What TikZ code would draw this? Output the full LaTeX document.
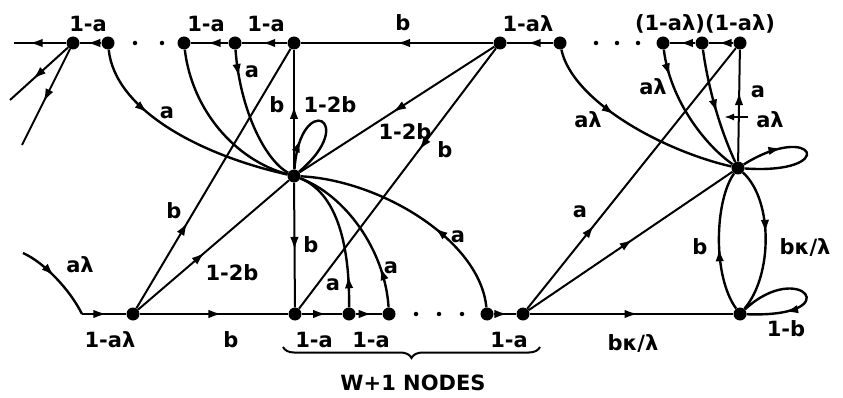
\documentclass[tikz,border=0pt]{standalone}
\usepackage{fontspec}
\setmainfont{DejaVu Sans}
\usetikzlibrary{arrows.meta,decorations.markings,decorations.pathreplacing}
\tikzset{
 dot/.style={circle,fill=black,inner sep=0pt,minimum size=13pt},
 sdot/.style={circle,fill=black,inner sep=0pt,minimum size=4.5pt},
 ln/.style={line width=2pt},
 cv/.style={line width=2.4pt},
 ma/.style={postaction={decorate,decoration={markings,mark=at position #1 with {\arrow{Latex[length=13pt,width=8.5pt]}}}}},
 lab/.style={inner sep=0pt,font=\fontsize{21}{25}\selectfont\bfseries},
}
\begin{document}
\begin{tikzpicture}[x=1pt,y=-1pt]
\useasboundingbox (0,0) rectangle (843,398);
% top row
\node[dot] (T1) at (73,43) {};
\node[dot] (T2) at (108,43) {};
\node[dot] (T3) at (184,43) {};
\node[dot] (T4) at (235,43) {};
\node[dot] (T5) at (294,43) {};
\node[dot] (T6) at (500,43) {};
\node[dot] (T6b) at (560,43) {};
\node[dot] (T7) at (663,43) {};
\node[dot] (T8) at (702,43) {};
\node[dot] (T9) at (740,43) {};
% hubs
\node[dot] (H1) at (294,176) {};
\node[dot] (H2) at (738,168) {};
% bottom row
\node[dot] (B1) at (133,314) {};
\node[dot] (B2) at (295,314) {};
\node[dot] (B3) at (349,314) {};
\node[dot] (B4) at (389,314) {};
\node[dot] (B5) at (487,314) {};
\node[dot] (B6) at (523,314) {};
\node[dot] (B7) at (740,314) {};
% ellipsis dots
\node[sdot] (d1) at (135,43) {};
\node[sdot] (d2) at (162,43) {};
\node[sdot] (d3) at (596,43) {};
\node[sdot] (d4) at (617,43) {};
\node[sdot] (d5) at (638,43) {};
\node[sdot] (d6) at (416,314) {};
\node[sdot] (d7) at (439,314) {};
\node[sdot] (d8) at (462,314) {};
% free ends
\coordinate (L1) at (14,43);
\coordinate (L2) at (10,100);
\coordinate (L3) at (22,145);
\coordinate (S0) at (23,253);
\coordinate (S1) at (82,314);
% top row edges
\draw[ln,ma=0.7] (T1) -- (L1);
\draw[ln,ma=0.6] (T1) -- (L2);
\draw[ln,ma=0.55] (T1) -- (L3);
\draw[ln,ma=0.65] (T2) -- (T1);
\draw[ln,ma=0.55] (T4) -- (T3);
\draw[ln,ma=0.55] (T5) -- (T4);
\draw[ln,ma=0.5] (T6) -- (T5);
\draw[ln,ma=0.55] (T6b) -- (T6);
\draw[ln,ma=0.6] (T8) -- (T7);
\draw[ln,ma=0.6] (T9) -- (T8);
% curves into H1 from top
\draw[cv,ma=0.33] (T2) .. controls (115,110) and (200,155) .. (H1);
\draw[cv] (T3) .. controls (192,110) and (235,160) .. (H1);
\draw[cv,ma=0.2] (T4) .. controls (240,110) and (265,160) .. (H1);
\draw[ln,ma=0.53] (H1) -- (T5);
\draw[cv,ma=0.25] (H1) .. controls (300,90) and (360,120) .. (H1);
% diagonals
\draw[ln,ma=0.33] (B1) -- (T5);
\draw[ln,ma=0.44] (B1) -- (H1);
\draw[ln,ma=0.52] (T6) -- (H1);
\draw[ln,ma=0.39] (T6) -- (B2);
\draw[ln,ma=0.54] (H1) -- (B2);
% curves into H1 from bottom
\draw[cv,ma=0.22] (B3) .. controls (350,230) and (330,190) .. (H1);
\draw[cv,ma=0.25] (B4) .. controls (385,250) and (345,195) .. (H1);
\draw[cv,ma=0.4] (B5) .. controls (480,240) and (380,180) .. (H1);
% bottom row
\draw[cv,ma=0.45] (S0) .. controls (45,263) and (70,290) .. (S1);
\draw[ln,ma=0.55] (S1) -- (B1);
\draw[ln,ma=0.55] (B1) -- (B2);
\draw[ln,ma=0.6] (B2) -- (B3);
\draw[ln,ma=0.6] (B3) -- (B4);
\draw[ln,ma=0.6] (B5) -- (B6);
\draw[ln,ma=0.53] (B6) -- (B7);
\draw[ln,ma=0.32] (B6) -- (T9);
\draw[ln,ma=0.51] (B6) -- (H2);
% right hub
\draw[cv,ma=0.4] (T6b) .. controls (572,100) and (660,150) .. (H2);
\draw[cv,ma=0.2] (T7) .. controls (670,100) and (705,145) .. (H2);
\draw[cv,ma=0.55] (T8) .. controls (710,100) and (725,140) .. (H2);
\draw[ln,ma=0.62] (H2) -- (T9);
\draw[cv,ma=0.3] (H2) .. controls (815,120) and (840,175) .. (H2);
\draw[cv,ma=0.45] (B7) .. controls (712,275) and (715,200) .. (H2);
\draw[cv,ma=0.45] (H2) .. controls (773,200) and (773,275) .. (B7);
\draw[cv,ma=0.72] (B7) .. controls (800,258) and (850,318) .. (B7);
% leader arrow
\coordinate (ld1) at (748,117);
\coordinate (ld2) at (724,117);
\draw[ln,-{Latex[length=10pt,width=7pt]}] (ld1) -- (ld2);
% brace
\coordinate (br1) at (540,347);
\coordinate (br2) at (283,347);
\draw[ln,decorate,decoration={brace,amplitude=11pt}] (br1) -- (br2);
% labels
\node[lab] (x1) at (88,24) {1-a};
\node[lab] (x2) at (206,24) {1-a};
\node[lab] (x3) at (266,24) {1-a};
\node[lab] (x4) at (403,23) {b};
\node[lab] (x5) at (528,24) {1-aλ};
\node[lab] (x6) at (705,24) {(1-aλ)(1-aλ)};
\node[lab] (x7) at (167,113) {a};
\node[lab] (x8) at (252,72) {a};
\node[lab] (x9) at (277,105) {b};
\node[lab] (x10) at (330,105) {1-2b};
\node[lab] (x11) at (405,132) {1-2b};
\node[lab] (x12) at (445,150) {b};
\node[lab] (x13) at (174,211) {b};
\node[lab] (x14) at (232,273) {1-2b};
\node[lab] (x15) at (80,265) {aλ};
\node[lab] (x16) at (311,245) {b};
\node[lab] (x17) at (333,285) {a};
\node[lab] (x18) at (391,268) {a};
\node[lab] (x19) at (458,237) {a};
\node[lab] (x20) at (110,340) {1-aλ};
\node[lab] (x21) at (231,340) {b};
\node[lab] (x22) at (314,340) {1-a};
\node[lab] (x23) at (371,340) {1-a};
\node[lab] (x24) at (509,340) {1-a};
\node[lab] (x25) at (633,343) {bκ/λ};
\node[lab] (x26) at (786,329) {1-b};
\node[lab] (x27) at (700,247) {b};
\node[lab] (x28) at (805,247) {bκ/λ};
\node[lab] (x29) at (580,212) {a};
\node[lab] (x30) at (588,120) {aλ};
\node[lab] (x31) at (653,87) {aλ};
\node[lab] (x32) at (758,92) {a};
\node[lab] (x33) at (770,120) {aλ};
\node[lab] (x34) at (413,383) {W+1 NODES};
\end{tikzpicture}
\end{document}
